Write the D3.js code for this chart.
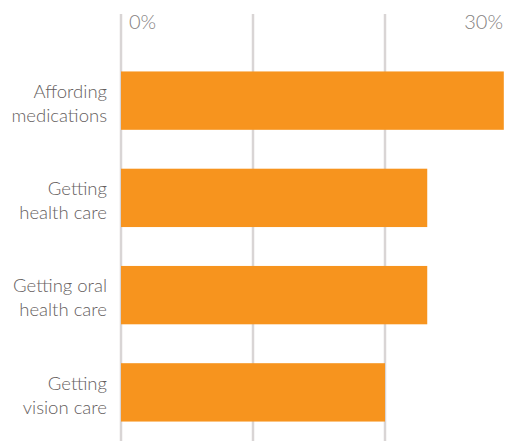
<!DOCTYPE html>
<html>
<head>
<meta charset="utf-8">
<script src="https://cdn.jsdelivr.net/npm/d3@7"></script>
<style>
  body { margin: 0; background: #fff; }
  svg { display: block; }
</style>
</head>
<body>
<svg id="chart"></svg>
<script>
// data
const categories = [
  ["Affording", "medications"],
  ["Getting", "health care"],
  ["Getting oral", "health care"],
  ["Getting", "vision care"]
];
const values = [29, 23.2, 23.2, 20];
const gridValues = [0, 10, 20, 30];
const tickLabels = ["0%", "30%"];

const width = 515, height = 441;
const svg = d3.select("#chart").attr("width", width).attr("height", height);

const x = d3.scaleLinear().domain([0, 30]).range([121, 517]);
const y = d3.scaleBand()
  .domain(d3.range(categories.length))
  .range([52, 441])
  .paddingInner(0.4)
  .paddingOuter(0.2);

// gridlines
svg.selectAll(".grid")
  .data(gridValues)
  .join("line")
    .attr("class", "grid")
    .attr("x1", d => x(d))
    .attr("x2", d => x(d))
    .attr("y1", 14)
    .attr("y2", height)
    .attr("stroke", "#d9d5d5")
    .attr("stroke-width", 2.5);

// tick labels at top
svg.append("text")
  .attr("x", x(0) + 8)
  .attr("y", 29)
  .attr("font-family", "Lato, sans-serif")
  .attr("font-weight", 300)
  .attr("font-size", 20)
  .attr("fill", "#857f7f")
  .text(tickLabels[0]);

svg.append("text")
  .attr("x", x(30) - 14)
  .attr("y", 29)
  .attr("text-anchor", "end")
  .attr("font-family", "Lato, sans-serif")
  .attr("font-weight", 300)
  .attr("font-size", 20)
  .attr("fill", "#857f7f")
  .text(tickLabels[1]);

// bars
svg.selectAll(".bar")
  .data(values)
  .join("rect")
    .attr("class", "bar")
    .attr("x", x(0))
    .attr("y", (d, i) => y(i))
    .attr("width", d => x(d) - x(0))
    .attr("height", y.bandwidth())
    .attr("fill", "#f7941e");

// category labels
const labels = svg.selectAll(".label")
  .data(categories)
  .join("text")
    .attr("class", "label")
    .attr("text-anchor", "end")
    .attr("font-family", "Lato, sans-serif")
    .attr("font-weight", 300)
    .attr("font-size", 18.5)
    .attr("fill", "#655e5e")
    .attr("y", (d, i) => y(i) + y.bandwidth() / 2);

labels.selectAll("tspan")
  .data(d => d)
  .join("tspan")
    .attr("x", 107)
    .attr("dy", (d, i) => i === 0 ? "-0.15em" : "1.3em")
    .text(d => d);
</script>
</body>
</html>
